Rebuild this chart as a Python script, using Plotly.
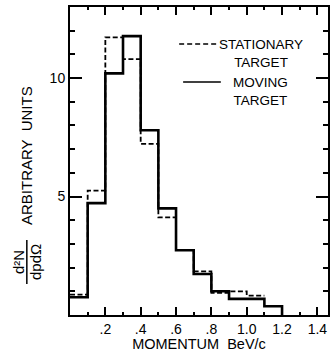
import plotly.graph_objects as go

# Data: histogram bins of momentum (BeV/c), width 0.1
bin_edges_moving = [0.0, 0.1, 0.2, 0.3, 0.4, 0.5, 0.6, 0.7, 0.8, 0.9, 1.0, 1.1, 1.2]
moving = [0.75, 4.72, 10.2, 11.77, 7.8, 4.5, 2.73, 1.73, 1.0, 0.68, 0.68, 0.37]

bin_edges_stationary = [0.0, 0.1, 0.2, 0.3, 0.4, 0.5, 0.6, 0.7, 0.8, 0.9, 1.0, 1.1]
stationary = [0.86, 5.25, 11.72, 10.8, 7.22, 4.12, 2.75, 1.84, 0.93, 1.0, 0.82]

x_tickvals = [0.2, 0.4, 0.6, 0.8, 1.0, 1.2, 1.4]
x_ticktext = [".2", ".4", ".6", ".8", "1.0", "1.2", "1.4"]
y_tickvals = [5, 10]
y_ticktext = ["5", "10"]

FONT = "Liberation Sans"
W, H = 330, 352
L, R, T, B = 70, 0, 7, 37


def step_xy(edges, vals, drop_end):
    xs = list(edges)
    ys = list(vals) + [vals[-1]]
    if drop_end:
        xs.append(edges[-1])
        ys.append(0)
    return xs, ys


fig = go.Figure()
xs, ys = step_xy(bin_edges_stationary, stationary, False)
fig.add_trace(go.Scatter(x=xs, y=ys, mode="lines", line_shape="hv",
                         line=dict(color="black", width=1.8, dash="5px,2.5px"),
                         name="STATIONARY TARGET", showlegend=False))
xs, ys = step_xy(bin_edges_moving, moving, True)
fig.add_trace(go.Scatter(x=xs, y=ys, mode="lines", line_shape="hv",
                         line=dict(color="black", width=2.6),
                         name="MOVING TARGET", showlegend=False))

pw = W - L - R
ph = H - T - B


def px(xp):
    return (xp - L) / pw


def py(yp):
    return (H - B - yp) / ph


# legend samples (decoration in paper coordinates)
fig.add_shape(type="line", xref="paper", yref="paper", x0=px(180), x1=px(218), y0=py(44), y1=py(44),
              line=dict(color="black", width=1.6, dash="5px,3px"))
fig.add_shape(type="line", xref="paper", yref="paper", x0=px(184), x1=px(222), y0=py(82), y1=py(82),
              line=dict(color="black", width=1.6))

annots = [
    dict(text="STATIONARY<br>TARGET", x=px(262), y=py(44)),
    dict(text="MOVING<br>TARGET", x=px(262), y=py(82)),
]
for a in annots:
    fig.add_annotation(text=a["text"], xref="paper", yref="paper", x=a["x"], y=a["y"],
                       xanchor="center", yanchor="top", align="center", showarrow=False,
                       yshift=9, font=dict(family=FONT, size=13.5, color="black"))

# y-axis title pieces
fig.add_annotation(text="ARBITRARY  UNITS", xref="paper", yref="paper", x=0, xshift=-(L - 26),
                   y=py(156), textangle=-90, showarrow=False, xanchor="center", yanchor="middle",
                   font=dict(family=FONT, size=15, color="black"))
fig.add_annotation(text="d²N", xref="paper", yref="paper", x=0, xshift=-(L - 18),
                   y=py(262), textangle=-90, showarrow=False, xanchor="center", yanchor="middle",
                   font=dict(family=FONT, size=15, color="black"))
fig.add_annotation(text="dpdΩ", xref="paper", yref="paper", x=0, xshift=-(L - 35),
                   y=py(262), textangle=-90, showarrow=False, xanchor="center", yanchor="middle",
                   font=dict(family=FONT, size=15, color="black"))
fig.add_shape(type="line", xref="paper", yref="paper", x0=px(26.5), x1=px(26.5), y0=py(240), y1=py(284),
              line=dict(color="black", width=1.5))

fig.update_layout(
    width=W, height=H,
    margin=dict(l=L, r=R, t=T, b=B, pad=0),
    paper_bgcolor="white", plot_bgcolor="white",
    font=dict(family=FONT, size=13, color="black"),
    xaxis=dict(range=[0, 1.46], tickvals=x_tickvals, ticktext=x_ticktext,
               ticks="inside", ticklen=8, tickwidth=1.5, tickcolor="black",
               minor=dict(dtick=0.1, tick0=0, ticks="inside", ticklen=3, tickwidth=1.5, tickcolor="black"),
               showline=True, linecolor="black", linewidth=2, mirror="allticks",
               showgrid=False, zeroline=False,
               title=dict(text="MOMENTUM  BeV/c", font=dict(family=FONT, size=14.5), standoff=2),
               tickfont=dict(family=FONT, size=14)),
    yaxis=dict(range=[0, 13], tickvals=y_tickvals, ticktext=y_ticktext,
               ticks="inside", ticklen=12, tickwidth=1.5, tickcolor="black",
               minor=dict(dtick=1, tick0=0, ticks="inside", ticklen=5, tickwidth=1.5, tickcolor="black"),
               showline=True, linecolor="black", linewidth=2, mirror="allticks",
               showgrid=False, zeroline=False,
               tickfont=dict(family=FONT, size=14)),
)

fig.write_html("out.html")
